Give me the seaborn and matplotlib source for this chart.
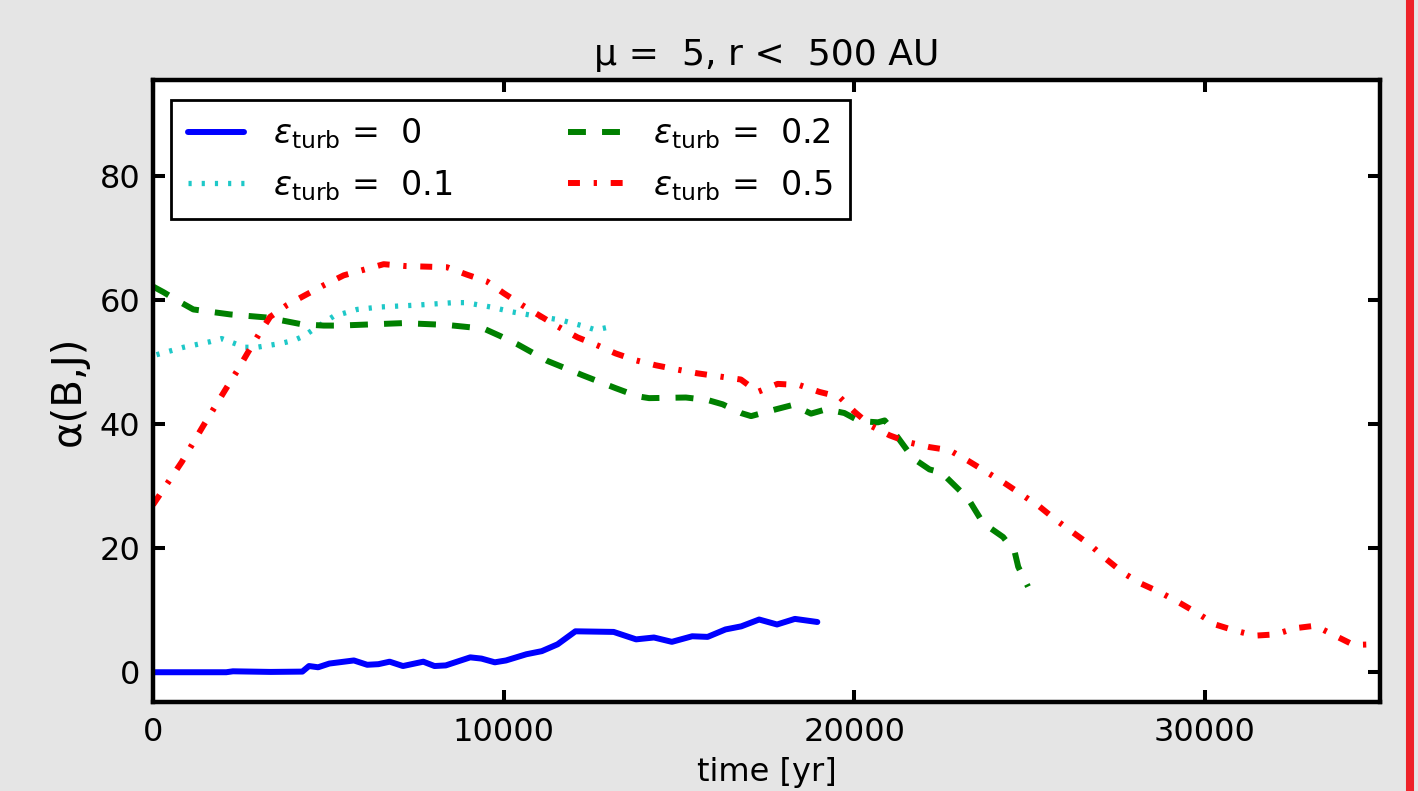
import matplotlib
matplotlib.use("Agg")
import matplotlib.pyplot as plt
import seaborn as sns
from matplotlib.lines import Line2D

# ---------------- data ----------------
t_e0 = [0, 2090, 2280, 3360, 4260, 4450, 4710, 5030, 5730, 6110, 6430, 6750, 7130,
        7710, 8030, 8350, 9050, 9370, 9750, 10070, 10650, 11090, 11540, 12050,
        13140, 13780, 14290, 14800, 15380, 15820, 16330, 16780, 17290, 17800,
        18310, 18950]
a_e0 = [0.0, 0.0, 0.15, 0.05, 0.1, 1.0, 0.8, 1.4, 1.9, 1.2, 1.3, 1.7, 1.0,
        1.7, 1.0, 1.1, 2.4, 2.2, 1.6, 1.9, 2.9, 3.4, 4.5, 6.6,
        6.5, 5.3, 5.6, 4.9, 5.8, 5.7, 6.9, 7.4, 8.5, 7.7,
        8.6, 8.1]

t_e01 = [100, 870, 1630, 1960, 2290, 2630, 2960, 3630, 4010, 4300, 4580, 5150,
         5820, 6490, 7530, 8580, 8910, 9630, 10250, 10960, 11630, 12290, 12630,
         12960]
a_e01 = [51.2, 52.4, 53.3, 53.8, 53.1, 52.4, 52.4, 53.0, 53.5, 54.2, 55.3, 57.4,
         58.5, 58.9, 59.2, 59.6, 59.6, 58.9, 58.1, 57.4, 56.8, 55.8, 55.2,
         55.6]

t_e02 = [0, 295, 770, 1150, 2200, 3250, 4250, 4870, 5340, 7150, 8390, 9440,
         9910, 10390, 11250, 12250, 13200, 13820, 14150, 15200, 15820, 16250,
         16770, 17060, 17770, 18250, 18770, 19200, 19720, 20150, 20680, 20870,
         21060, 21680, 22150, 22490, 23250, 23630, 23870, 24250, 24580, 24680,
         24960]
a_e02 = [62.2, 61.3, 59.7, 58.5, 57.7, 57.2, 56.1, 55.9, 55.9, 56.3, 56.0, 55.4,
         54.2, 52.9, 50.2, 47.9, 45.8, 44.5, 44.2, 44.3, 43.9, 43.2,
         41.8, 41.3, 42.4, 43.1, 41.7, 42.4, 41.8, 40.5, 40.3, 40.6,
         39.3, 34.5, 32.7, 32.2, 28.0, 24.5, 23.3, 21.8, 19.4, 17.0,
         13.8]

t_e05 = [0, 820, 1440, 2090, 2390, 2700, 3010, 3340, 3820, 4340, 4870, 5440,
         6010, 6580, 7200, 7820, 8390, 8960, 9530, 10010, 10530, 11060, 11530,
         12110, 12680, 13200, 13770, 14340, 14960, 15530, 16150, 16770, 17250,
         17820, 18440, 19010, 19580, 20010, 20490, 21010, 21530, 22150, 22720,
         23250, 23770, 24290, 24820, 25290, 25770, 26250, 26740, 27200, 27680,
         28180, 28720, 29250, 29770, 30300, 30870, 31440, 32010, 32580, 33150,
         33680, 34250, 34820, 35000]
a_e05 = [27.0, 33.9, 39.8, 45.8, 48.5, 51.5, 54.4, 57.3, 59.2, 60.8, 62.4, 64.0,
         64.9, 65.8, 65.5, 65.4, 65.3, 64.1, 63.0, 61.1, 59.2, 57.4, 55.8,
         54.0, 52.7, 51.4, 50.3, 49.5, 48.8, 48.2, 47.7, 47.2, 45.2,
         46.5, 46.3, 45.2, 44.4, 42.0, 39.7, 38.2, 37.1, 36.3, 35.8,
         34.1, 32.3, 30.5, 28.5, 26.7, 24.5, 22.5, 20.5, 18.2, 16.0,
         14.3, 12.9, 11.3, 9.6, 7.7, 6.7, 5.9, 6.1, 7.1, 7.5,
         6.0, 4.4, 4.5, 4.6]

labels = [r"$\varepsilon_{\mathrm{turb}}$ =  0",
          r"$\varepsilon_{\mathrm{turb}}$ =  0.1",
          r"$\varepsilon_{\mathrm{turb}}$ =  0.2",
          r"$\varepsilon_{\mathrm{turb}}$ =  0.5"]
x_ticks = [0, 10000, 20000, 30000]
y_ticks = [0, 20, 40, 60, 80]
title = "μ =  5, r <  500 AU"
xlabel = "time [yr]"
ylabel = "α(B,J)"

# ---------------- style ----------------
sns.set_style("ticks")
plt.rcParams['font.family'] = ['DejaVu Sans']
plt.rcParams['mathtext.fontset'] = 'dejavusans'
plt.rcParams['text.color'] = 'black'
plt.rcParams['axes.labelcolor'] = 'black'
plt.rcParams['xtick.color'] = 'black'
plt.rcParams['ytick.color'] = 'black'

fig = plt.figure(figsize=(14.18, 7.91), dpi=100, facecolor='#e5e5e5')
ax = fig.add_axes([153 / 1418, 1 - 702 / 791, 1227 / 1418, 622 / 791])
ax.set_facecolor('white')

styles = [
    dict(color='#0000ff', linestyle='-', linewidth=4.3),
    dict(color='#1ec8c8', linestyle=(0, (0.6, 1.9)), linewidth=3.8),
    dict(color='#008000', linestyle=(0, (3.0, 2.7)), linewidth=4.3),
    dict(color='#ff0000', linestyle=(0, (2.0, 2.3, 0.55, 2.3)), linewidth=4.3),
]
data = [(t_e0, a_e0), (t_e01, a_e01), (t_e02, a_e02), (t_e05, a_e05)]

for (t, a), lab, st in zip(data, labels, styles):
    sns.lineplot(x=t, y=a, ax=ax, label=lab, sort=False, estimator=None, **st)

ax.set_xlim(0, 35000)
ax.set_ylim(-4.8, 95.5)
ax.set_xticks(x_ticks)
ax.set_yticks(y_ticks)
ax.tick_params(direction='in', length=8.6, width=2.9, top=True, right=True,
               labelsize=23, pad=9, colors='black')
ax.tick_params(axis='x', pad=11)
for sp in ax.spines.values():
    sp.set_linewidth(3.2)
    sp.set_color('black')
    sp.set_visible(True)

ax.set_title(title, fontsize=26, pad=11, color='black')
ax.set_xlabel(xlabel, fontsize=23, labelpad=6)
ax.set_ylabel(ylabel, fontsize=29, labelpad=8)

leg = ax.legend(loc='upper left', bbox_to_anchor=(18 / 1227, (702 - 100) / 622),
                borderaxespad=0, ncol=2, fontsize=24, handlelength=1.7,
                handletextpad=0.85, columnspacing=3.5, labelspacing=0.5,
                borderpad=0.5, fancybox=False, framealpha=1, edgecolor='black')
leg.get_frame().set_linewidth(2.0)
for txt in leg.get_texts():
    txt.set_color('black')

fig.add_artist(Line2D([1410 / 1418, 1410 / 1418], [0, 1], transform=fig.transFigure,
                      color='#ee2229', linewidth=5.8))

fig.savefig("out.png", dpi=100, facecolor=fig.get_facecolor())
